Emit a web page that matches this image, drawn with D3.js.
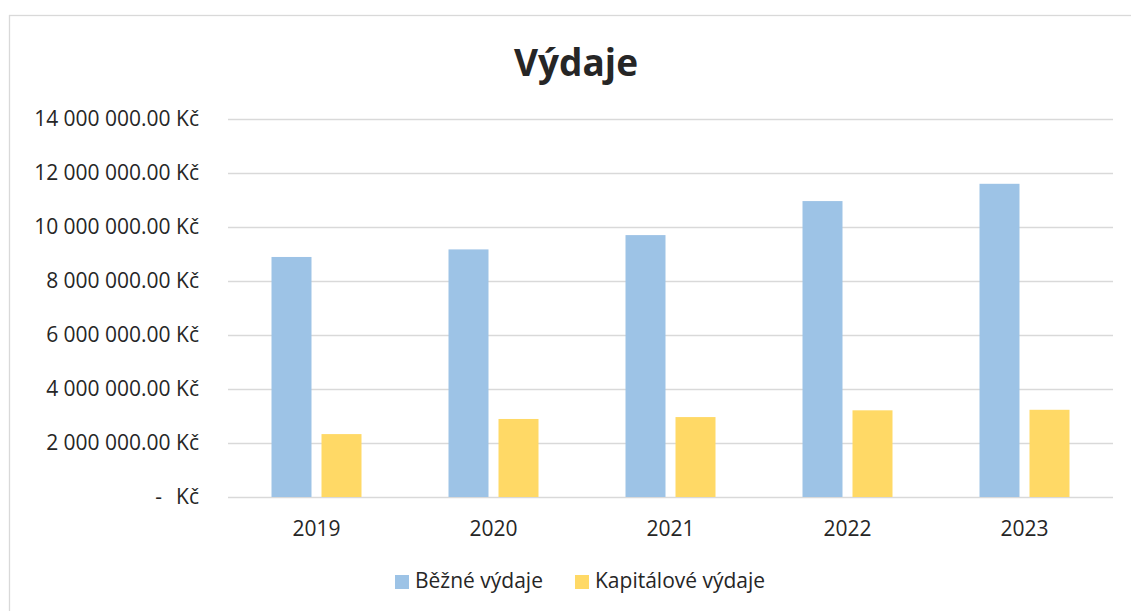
<!DOCTYPE html>
<html><head><meta charset="utf-8">
<script src="https://cdn.jsdelivr.net/npm/d3@7"></script>
<style>body{margin:0;background:#fff}svg{display:block}text{font-family:"Open Sans",sans-serif;fill:#262626}</style>
</head><body><svg id="c" width="1131" height="611"></svg>
<script>
const years = ["2019","2020","2021","2022","2023"];
const bezne = [8890000, 9170000, 9700000, 10960000, 11600000];
const kapitalove = [2330000, 2890000, 2960000, 3210000, 3230000];
const seriesNames = ["Běžné výdaje","Kapitálové výdaje"];
const colors = ["#9dc3e6","#ffd966"];
const yTicks = [0,2000000,4000000,6000000,8000000,10000000,12000000,14000000];

(function(){
const svg = d3.select("#c");
const FS = 21;
svg.append("rect").attr("x",9.5).attr("y",15.5).attr("width",1140).attr("height",620)
  .attr("fill","#fff").attr("stroke","#d9d9d9").attr("stroke-width",1.3);

const pLeft=228, pRight=1113, pTop=119, pBottom=497;
const x = d3.scaleBand().domain(years).range([pLeft,pRight]);
const y = d3.scaleLinear().domain([0,14000000]).range([pBottom,pTop]);
const x1 = d3.scaleBand().domain([0,1]).range([0,90]).paddingInner(0.2);

const fmt = v => v===0 ? "" : d3.format(",.2f")(v).replace(/,/g," ")+" Kč";

const yAxis = d3.axisLeft(y).tickValues(yTicks).tickSize(-(pRight-pLeft)).tickFormat(fmt);
const gy = svg.append("g").attr("transform",`translate(${pLeft},0)`).call(yAxis);
gy.select(".domain").remove();
gy.selectAll(".tick line").attr("stroke","#d9d9d9").attr("stroke-width",1.5);
gy.selectAll(".tick text").attr("x",-29).attr("font-size",FS).attr("fill","#262626");
const zt = gy.selectAll(".tick").filter(d=>d===0).select("text");
zt.text(null);
zt.append("tspan").text("-");
zt.append("tspan").attr("dx",14).text("Kč");

const data = years.map((yr,i)=>({yr, vals:[bezne[i],kapitalove[i]]}));
const groups = svg.append("g").selectAll("g").data(data).join("g")
  .attr("transform",d=>`translate(${x(d.yr)+x.bandwidth()/2-45},0)`);
groups.selectAll("rect").data(d=>d.vals.map((v,k)=>({v,k}))).join("rect")
  .attr("x",d=>x1(d.k)).attr("width",x1.bandwidth())
  .attr("y",d=>y(d.v)).attr("height",d=>y(0)-y(d.v))
  .attr("fill",d=>colors[d.k]);

const xAxis = d3.axisBottom(x).tickSize(0).tickPadding(0);
const gx = svg.append("g").attr("transform",`translate(0,${pBottom})`).call(xAxis);
gx.select(".domain").remove();
gx.selectAll(".tick text").attr("y",39).attr("dy",0).attr("font-size",FS).attr("fill","#262626");

svg.append("text").attr("x",576).attr("y",76).attr("text-anchor","middle")
  .attr("font-size",37).attr("font-weight","bold").attr("fill","#000").text("Výdaje");

const legX=[395,575];
seriesNames.forEach((n,i)=>{
  svg.append("rect").attr("x",legX[i]).attr("y",575).attr("width",14).attr("height",14).attr("fill",colors[i]);
  svg.append("text").attr("x",legX[i]+20).attr("y",588).attr("font-size",FS).attr("fill","#262626").text(n);
});
})();
</script></body></html>
